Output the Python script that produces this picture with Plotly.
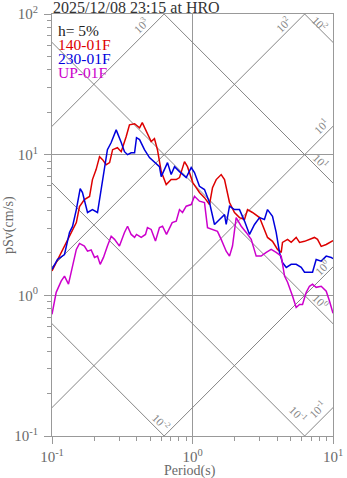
import numpy as np
import plotly.graph_objects as go

# ---------------- data ----------------
title_text = "2025/12/08 23:15 at HRO"
damping_text = "h= 5%"

period_140 = [0.100, 0.113, 0.126, 0.137, 0.149, 0.157, 0.170, 0.185, 0.194, 0.206,
              0.218, 0.229, 0.243, 0.257, 0.270, 0.292, 0.311, 0.337, 0.356, 0.387,
              0.420, 0.439, 0.468, 0.508, 0.536, 0.563, 0.599, 0.650, 0.705, 0.766,
              0.808, 0.877, 0.921, 1.005, 1.062, 1.121, 1.217, 1.321, 1.388, 1.475,
              1.600, 1.690, 1.834, 1.990, 2.160, 2.345, 2.464, 2.673, 3.00, 3.25,
              3.42, 3.71, 4.03, 4.28, 4.37, 4.75, 5.04, 5.47, 5.78, 6.27,
              6.80, 7.38, 7.76, 8.24, 8.95, 9.71, 10.0]
sv_140 = [1.49, 1.90, 2.38, 2.80, 3.29, 4.28, 4.80, 5.04, 6.65, 7.83,
          9.68, 9.22, 8.49, 8.78, 10.85, 11.2, 10.5, 13.4, 16.3, 16.6,
          15.5, 16.9, 14.6, 12.4, 13.0, 10.85, 7.58, 6.13, 6.65, 6.65,
          6.87, 8.92, 8.22, 6.33, 5.83, 5.38, 4.95, 4.42, 5.83, 6.65,
          7.22, 6.65, 4.57, 3.88, 3.57, 3.46, 4.07, 3.88, 3.57, 2.94,
          2.58, 2.42, 2.12, 2.02, 2.38, 2.50, 2.38, 2.58, 2.38, 2.42,
          2.50, 2.58, 2.50, 2.23, 2.30, 2.42, 2.45]

period_230 = [0.100, 0.1094, 0.1227, 0.1332, 0.140, 0.149, 0.1587, 0.1648, 0.179, 0.194,
              0.2108, 0.229, 0.248, 0.2638, 0.2863, 0.311, 0.328, 0.345, 0.366, 0.387,
              0.3995, 0.420, 0.455, 0.494, 0.536, 0.582, 0.599, 0.632, 0.664, 0.705,
              0.745, 0.808, 0.902, 0.979, 1.033, 1.121, 1.217, 1.321, 1.434, 1.557,
              1.690, 1.737, 1.834, 1.990, 2.160, 2.345, 2.546, 2.763, 3.00, 3.25,
              3.42, 3.71, 3.94, 4.16, 4.37, 4.65, 5.04, 5.47, 5.94, 6.27,
              6.80, 7.15, 7.59, 8.24, 8.95, 9.71, 10.0]
sv_230 = [1.53, 1.80, 1.95, 2.80, 3.09, 4.07, 5.74, 5.38, 3.88, 4.07,
          3.88, 6.65, 10.85, 12.2, 15.0, 12.2, 10.5, 10.0, 10.3, 10.3,
          13.2, 12.8, 10.85, 9.53, 8.78, 8.22, 6.98, 7.83, 8.78, 7.22,
          8.22, 7.58, 6.87, 8.09, 7.46, 5.96, 5.65, 4.57, 3.19, 3.46,
          3.75, 3.19, 4.30, 4.07, 4.07, 3.37, 2.71, 3.19, 3.57, 3.46,
          4.07, 3.65, 2.80, 2.02, 1.71, 1.58, 1.66, 1.66, 1.58, 1.46,
          1.46, 1.46, 1.80, 1.75, 1.90, 1.86, 1.82]

period_up = [0.100, 0.1071, 0.1162, 0.1227, 0.131, 0.140, 0.149, 0.157, 0.170, 0.179,
             0.190, 0.2007, 0.2108, 0.2203, 0.2325, 0.248, 0.2638, 0.2786, 0.302, 0.328,
             0.345, 0.366, 0.387, 0.3995, 0.4314, 0.4628, 0.478, 0.508, 0.545, 0.582,
             0.612, 0.653, 0.717, 0.766, 0.808, 0.849, 0.902, 0.979, 1.033, 1.121,
             1.217, 1.279, 1.388, 1.506, 1.600, 1.737, 1.834, 1.926, 2.046, 2.222,
             2.411, 2.617, 2.84, 3.08, 3.35, 3.63, 3.94, 4.28, 4.52, 4.75,
             5.15, 5.47, 5.78, 6.07, 6.45, 6.80, 7.15, 7.59, 8.24, 8.95,
             9.44, 10.0]
sv_up = [0.733, 1.05, 1.26, 1.37, 1.20, 1.61, 2.12, 2.34, 2.24, 2.06,
         2.10, 1.86, 1.90, 1.66, 1.86, 2.24, 2.63, 2.50, 2.24, 2.80,
         3.10, 2.71, 2.58, 2.71, 2.58, 2.71, 3.03, 2.94, 2.43, 3.03,
         3.10, 2.71, 3.29, 3.37, 4.07, 3.88, 4.30, 4.42, 5.06, 4.67,
         4.57, 3.03, 2.94, 2.85, 2.50, 2.06, 1.90, 2.24, 3.57, 3.10,
         2.80, 2.50, 1.90, 1.90, 2.02, 2.12, 2.02, 1.90, 1.37, 1.24,
         0.99, 0.82, 0.86, 0.86, 1.05, 1.16, 1.20, 1.14, 1.16, 1.07,
         0.91, 0.745]

series_names = ["140-01F", "230-01F", "UP-01F"]

# tripartite guide lines: displacement (cm) and acceleration (cm/s^2) exponents
disp_exponents = [-2, -1, 0, 1, 2]
acc_exponents = [-1, 0, 1, 2, 3]

x_tickvals = [0.1, 1, 10]
x_ticktext = ["10<sup>-1</sup>", "10<sup>0</sup>", "10<sup>1</sup>"]
y_tickvals = [0.1, 1, 10, 100]
y_ticktext = ["10<sup>-1</sup>", "10<sup>0</sup>", "10<sup>1</sup>", "10<sup>2</sup>"]

# ---------------- layout / style ----------------
W, H = 347, 478
ML, MR, MT, MB = 52, 14, 14, 42
XR = [-1, 1]
YR = [-1, 2]
ppd = (W - ML - MR) / (XR[1] - XR[0])   # pixels per decade

FONT = "Liberation Serif, Times New Roman, serif"
GRID = "#999999"
DIAG = "#858585"
TICKTXT = "#6a6a6a"
colors = ["#dd0000", "#0000dd", "#cc00cc"]

# label placement for the guide lines: (along px back from the edge, perpendicular px)
acc_label_place = {3: (24, 8.5), 2: (22, 8), 1: (8, 9), 0: (7.5, 7.5), -1: (12, 10)}
disp_label_place = {2: (23, 4), 1: (24, 7), 0: (25, 7.5), -1: (20, 11), -2: (12, 8)}

fig = go.Figure()

T_ext = np.array([1e-3, 1e3])
for k in disp_exponents:
    D = 10.0 ** k
    fig.add_trace(go.Scatter(x=T_ext, y=2 * np.pi * D / T_ext, mode="lines",
                             line=dict(color=DIAG, width=1), hoverinfo="skip",
                             showlegend=False))
for k in acc_exponents:
    A = 10.0 ** k
    fig.add_trace(go.Scatter(x=T_ext, y=A * T_ext / (2 * np.pi), mode="lines",
                             line=dict(color=DIAG, width=1), hoverinfo="skip",
                             showlegend=False))

for name, px, py, c in zip(series_names,
                           [period_140, period_230, period_up],
                           [sv_140, sv_230, sv_up], colors):
    fig.add_trace(go.Scatter(x=px, y=py, mode="lines", name=name,
                             line=dict(color=c, width=1.5), showlegend=False))

annotations = []
s2 = np.sqrt(2)
for k in acc_exponents:
    A = 10.0 ** k
    sv_right = A * 10 ** XR[1] / (2 * np.pi)
    if np.log10(sv_right) <= YR[1]:
        lt, ls = XR[1], np.log10(sv_right)
    else:
        ls = YR[1]
        lt = np.log10(2 * np.pi * 10 ** YR[1] / A)
    along, perp = acc_label_place[k]
    d = along / s2 / ppd
    annotations.append(dict(x=lt - d, y=ls - d, xref="x", yref="y",
                            text=f"10<sup>{k}</sup>", showarrow=False, textangle=-45,
                            xshift=-perp / s2, yshift=perp / s2,
                            font=dict(family=FONT, size=11.5, color=DIAG)))
for k in disp_exponents:
    D = 10.0 ** k
    sv_right = 2 * np.pi * D / 10 ** XR[1]
    if np.log10(sv_right) >= YR[0]:
        lt, ls = XR[1], np.log10(sv_right)
    else:
        ls = YR[0]
        lt = np.log10(2 * np.pi * D / 10 ** YR[0])
    along, perp = disp_label_place[k]
    d = along / s2 / ppd
    annotations.append(dict(x=lt - d, y=ls + d, xref="x", yref="y",
                            text=f"10<sup>{k}</sup>", showarrow=False, textangle=45,
                            xshift=perp / s2, yshift=perp / s2,
                            font=dict(family=FONT, size=11.5, color=DIAG)))

# title
annotations.append(dict(x=0, y=1, xref="paper", yref="paper", xanchor="left",
                        yanchor="bottom", text=title_text, showarrow=False,
                        xshift=-1, yshift=-4,
                        font=dict(family=FONT, size=16, color="#333333")))
# in-plot legend
legend_lines = [(damping_text, "#222222")] + list(zip(series_names, colors))
for i, (txt, c) in enumerate(legend_lines):
    annotations.append(dict(x=0, y=1, xref="paper", yref="paper", xanchor="left",
                            yanchor="middle", text=txt, showarrow=False,
                            xshift=4, yshift=-(16 + 14.3 * i),
                            font=dict(family=FONT, size=15.5, color=c)))
# axis titles
annotations.append(dict(x=0.5, y=0, xref="paper", yref="paper", xanchor="center",
                        yanchor="middle", text="Period(s)", showarrow=False,
                        xshift=-3, yshift=-35,
                        font=dict(family=FONT, size=14, color=TICKTXT)))
annotations.append(dict(x=0, y=0.5, xref="paper", yref="paper", xanchor="center",
                        yanchor="middle", text="pSv(cm/s)", showarrow=False,
                        xshift=-43, textangle=-90,
                        font=dict(family=FONT, size=14, color=TICKTXT)))


def minor_vals(lo, hi):
    out = []
    for e in range(lo, hi):
        for m in range(2, 10):
            out.append(m * 10.0 ** e)
    return out


axis_common = dict(type="log", showline=True, linecolor=GRID, linewidth=1, mirror=True,
                   showgrid=True, gridcolor=GRID, gridwidth=1, zeroline=False,
                   ticks="outside", ticklen=7, tickcolor=GRID, tickwidth=1,
                   tickmode="array", automargin=False,
                   tickfont=dict(family=FONT, size=15, color=TICKTXT))

fig.update_xaxes(range=XR, tickvals=x_tickvals, ticktext=x_ticktext,
                 minor=dict(tickmode="array", tickvals=minor_vals(-1, 1), ticklen=4,
                            ticks="outside", tickcolor=GRID, showgrid=False),
                 **axis_common)
fig.update_yaxes(range=YR, tickvals=y_tickvals, ticktext=y_ticktext,
                 ticklabelstandoff=3,
                 minor=dict(tickmode="array", tickvals=minor_vals(-1, 2), ticklen=4,
                            ticks="outside", tickcolor=GRID, showgrid=False),
                 **axis_common)

fig.update_layout(width=W, height=H, margin=dict(l=ML, r=MR, t=MT, b=MB),
                  paper_bgcolor="white", plot_bgcolor="white", autosize=False,
                  showlegend=False, annotations=annotations,
                  font=dict(family=FONT))

# the page's default 8px body margin would push the fixed-size figure off the window
fig.write_html("out.html",
               config={"displayModeBar": False, "staticPlot": True},
               post_script="document.body.style.margin='0';"
                           "document.body.style.overflow='hidden';")
